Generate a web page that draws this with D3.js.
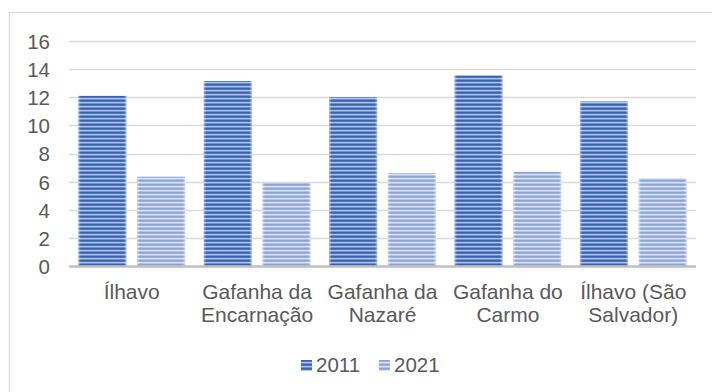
<!DOCTYPE html>
<html>
<head>
<meta charset="utf-8">
<script src="https://cdn.jsdelivr.net/npm/d3@7"></script>
<style>
  html, body { margin: 0; padding: 0; background: #fff; }
  svg { display: block; }
  text { font-family: "Liberation Sans", Arial, sans-serif; fill: #595959; }
</style>
</head>
<body>
<div id="chart"></div>
<script>
const categories = [
  ["Ílhavo"],
  ["Gafanha da", "Encarnação"],
  ["Gafanha da", "Nazaré"],
  ["Gafanha do", "Carmo"],
  ["Ílhavo (São", "Salvador)"]
];
const seriesNames = ["2011", "2021"];
const values2011 = [12.1, 13.15, 12.0, 13.55, 11.7];
const values2021 = [6.35, 5.9, 6.6, 6.7, 6.25];
const yTicks = [0, 2, 4, 6, 8, 10, 12, 14, 16];

const W = 712, H = 392;
const svg = d3.select("#chart").append("svg").attr("width", W).attr("height", H);

// patterns
const defs = svg.append("defs");
const pats = [
  { id: "p2011", rows: ["#3A63AF", "#4A74BC", "#B2C3E6", "#7090CB"] },
  { id: "p2021", rows: ["#8CA3D7", "#9DB1DE", "#DCE4F4", "#B3C3E7"] }
];
pats.forEach(p => {
  const pat = defs.append("pattern").attr("id", p.id)
    .attr("patternUnits", "userSpaceOnUse").attr("width", 8).attr("height", 4);
  p.rows.forEach((c, i) => pat.append("rect").attr("x", 0).attr("y", i).attr("width", 8).attr("height", 1).attr("fill", c));
});
const edge = defs.append("linearGradient").attr("id", "edge").attr("x1", 0).attr("x2", 1).attr("y1", 0).attr("y2", 0);
[[0, 0.45], [0.05, 0.0], [0.95, 0.0], [1, 0.45]].forEach(([o, a]) =>
  edge.append("stop").attr("offset", o).attr("stop-color", "#fff").attr("stop-opacity", a));

// outer border
svg.append("rect").attr("x", 9.5).attr("y", 12.5).attr("width", 720).attr("height", 400)
  .attr("fill", "none").attr("stroke", "#D9D9D9").attr("stroke-width", 1.3);

const x0 = d3.scaleBand().domain(d3.range(categories.length)).range([69, 696])
  .paddingInner(0.149).paddingOuter(0.0745);
const x1 = d3.scaleBand().domain(seriesNames).range([0, x0.bandwidth()]).paddingInner(0.182);
const y = d3.scaleLinear().domain([0, 16]).range([266, 41]);

// gridlines
svg.append("g").selectAll("line").data(yTicks.filter(d => d > 0)).join("line")
  .attr("x1", 69).attr("x2", 696)
  .attr("y1", d => Math.round(y(d)) + 0.5).attr("y2", d => Math.round(y(d)) + 0.5)
  .attr("stroke", "#D9D9D9").attr("stroke-width", 1.4);

// y axis labels via d3 axis
const yAxis = svg.append("g").attr("transform", "translate(50,0)")
  .call(d3.axisLeft(y).tickValues(yTicks).tickSize(0).tickPadding(0));
yAxis.select(".domain").remove();
yAxis.selectAll("text").attr("font-size", 20.5).attr("font-family", "Liberation Sans, Arial, sans-serif")
  .attr("fill", "#595959").attr("dy", "0.36em");

// bars
const data = categories.map((c, i) => [
  { s: "2011", v: values2011[i], i },
  { s: "2021", v: values2021[i], i }
]);
const groups = svg.append("g").selectAll("g").data(data).join("g")
  .attr("transform", (d, i) => `translate(${x0(i)},0)`);
groups.selectAll("rect.bar").data(d => d).join("rect").attr("class", "bar")
  .attr("x", d => x1(d.s)).attr("width", x1.bandwidth())
  .attr("y", d => y(d.v)).attr("height", d => y(0) - y(d.v))
  .attr("fill", d => d.s === "2011" ? "url(#p2011)" : "url(#p2021)");
groups.selectAll("rect.edge").data(d => d).join("rect").attr("class", "edge")
  .attr("x", d => x1(d.s)).attr("width", x1.bandwidth())
  .attr("y", d => y(d.v)).attr("height", d => y(0) - y(d.v))
  .attr("fill", "url(#edge)");

// baseline axis
svg.append("line").attr("x1", 69).attr("x2", 696).attr("y1", y(0) + 0.5).attr("y2", y(0) + 0.5)
  .attr("stroke", "#BFBFBF").attr("stroke-width", 2.3);

// x labels
const xl = svg.append("g").selectAll("text").data(categories).join("text")
  .attr("x", (d, i) => x0(i) + x0.bandwidth() / 2).attr("y", 299)
  .attr("text-anchor", "middle").attr("font-size", 21);
xl.selectAll("tspan").data(d => d).join("tspan")
  .attr("x", function () { return d3.select(this.parentNode).attr("x"); })
  .attr("dy", (d, j) => j === 0 ? 0 : 23).text(d => d);

// legend
const legendItems = [
  { name: seriesNames[0], fill: "url(#p2011)", x: 301 },
  { name: seriesNames[1], fill: "url(#p2021)", x: 379 }
];
const lg = svg.append("g").selectAll("g").data(legendItems).join("g")
  .attr("transform", d => `translate(${d.x},0)`);
lg.append("rect").attr("x", 0).attr("y", 360).attr("width", 11).attr("height", 11).attr("fill", d => d.fill);
lg.append("text").attr("x", 15).attr("y", 372).attr("font-size", 20.5).text(d => d.name);
</script>
</body>
</html>
